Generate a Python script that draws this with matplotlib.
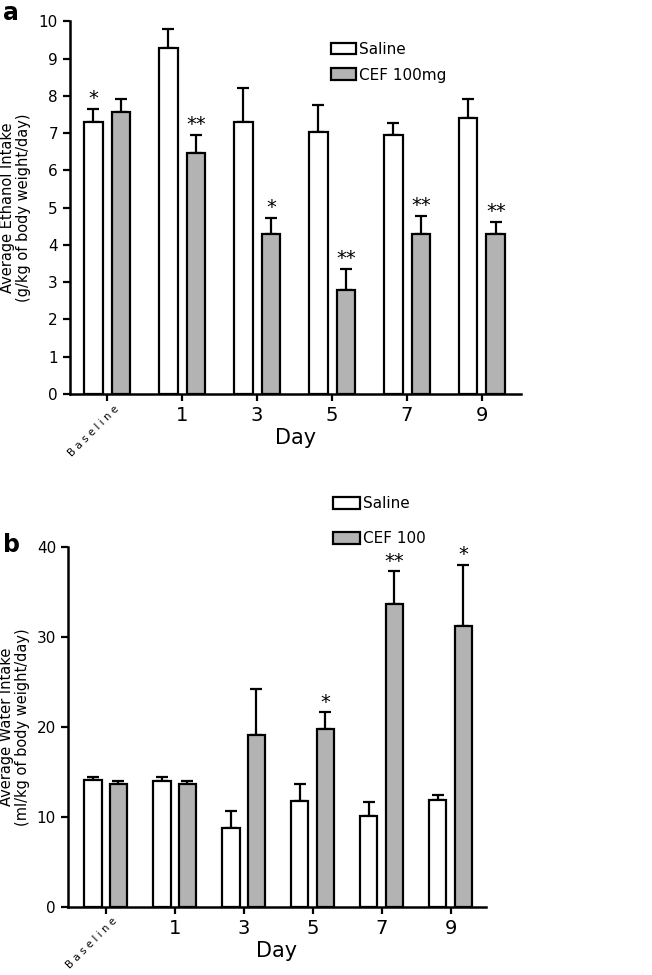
import numpy as np
import matplotlib.pyplot as plt
from matplotlib.patches import Patch

plt.rcParams['font.family'] = ['DejaVu Sans']

days = ["Baseline", "1", "3", "5", "7", "9"]

# panel a: ethanol intake
eth_saline = [7.3, 9.3, 7.3, 7.03, 6.95, 7.4]
eth_saline_sem = [0.35, 0.5, 0.92, 0.72, 0.33, 0.53]
eth_cef = [7.58, 6.48, 4.3, 2.78, 4.28, 4.3]
eth_cef_sem = [0.35, 0.47, 0.42, 0.57, 0.5, 0.32]
eth_saline_stars = ["*", "", "", "", "", ""]
eth_cef_stars = ["", "**", "*", "**", "**", "**"]

# panel b: water intake
wat_saline = [14.1, 14.0, 8.7, 11.8, 10.1, 11.9]
wat_saline_sem = [0.3, 0.4, 2.0, 1.8, 1.5, 0.5]
wat_cef = [13.6, 13.6, 19.1, 19.8, 33.7, 31.2]
wat_cef_sem = [0.4, 0.4, 5.1, 1.8, 3.6, 6.8]
wat_saline_stars = ["", "", "", "", "", ""]
wat_cef_stars = ["", "", "", "*", "**", "*"]

GRAY = "#b3b3b3"


def draw_panel(ax, saline, s_sem, cef, c_sem, s_stars, c_stars, ymax, yticks, ylabel, xlim, lab_x):
    x = np.arange(len(days))
    w = 0.25
    off = 0.185
    ax.bar(x - off, saline, w, color="white", edgecolor="black", linewidth=1.6, zorder=3)
    ax.bar(x + off, cef, w, color=GRAY, edgecolor="black", linewidth=1.6, zorder=3)
    n = len(days)
    ax.errorbar(x - off, saline, yerr=[np.zeros(n), s_sem], fmt="none", ecolor="black",
                elinewidth=1.6, capsize=4, capthick=1.6, zorder=2)
    ax.errorbar(x + off, cef, yerr=[np.zeros(n), c_sem], fmt="none", ecolor="black",
                elinewidth=1.6, capsize=4, capthick=1.6, zorder=2)
    pad = ymax * 0.002
    for i in range(n):
        if s_stars[i]:
            ax.text(x[i] - off, saline[i] + s_sem[i] + pad, s_stars[i], ha="center", va="bottom",
                    fontsize=14)
        if c_stars[i]:
            ax.text(x[i] + off, cef[i] + c_sem[i] + pad, c_stars[i], ha="center", va="bottom",
                    fontsize=14)
    ax.set_ylim(0, ymax)
    ax.set_xlim(*xlim)
    ax.set_yticks(yticks)
    ax.set_xticks(x)
    ax.set_xticklabels([""] + days[1:], fontsize=14)
    ax.text(x[0] + 0.14, -ymax * 0.035, "B a s e l i n e", rotation=45, rotation_mode="anchor",
            ha="right", va="center", fontsize=7.5, clip_on=False)
    ax.tick_params(axis="y", labelsize=11, width=1.6, length=5, direction="out")
    ax.tick_params(axis="x", width=1.6, length=5, direction="out", pad=4)
    for s in ["top", "right"]:
        ax.spines[s].set_visible(False)
    for s in ["left", "bottom"]:
        ax.spines[s].set_linewidth(1.8)
    ax.set_ylabel(ylabel, fontsize=10.5, linespacing=1.1)
    ax.yaxis.set_label_coords(lab_x, 0.5)
    ax.set_xlabel("Day", fontsize=15, labelpad=2)


fig = plt.figure(figsize=(6.52, 9.75), dpi=100)

ax1 = fig.add_axes([0.107, 0.596, 0.692, 0.382])
draw_panel(ax1, eth_saline, eth_saline_sem, eth_cef, eth_cef_sem, eth_saline_stars, eth_cef_stars,
           10, range(0, 11), "Average Ethanol Intake\n(g/kg of body weight/day)", (-0.5, 5.52), -0.085)
h1 = [Patch(facecolor="white", edgecolor="black", linewidth=1.6),
      Patch(facecolor=GRAY, edgecolor="black", linewidth=1.6)]
ax1.legend(h1, ["Saline", "CEF 100mg"], loc="upper left", bbox_to_anchor=(0.508, 0.957),
           bbox_transform=fig.transFigure, frameon=False, fontsize=11, handlelength=1.65,
           handleheight=0.8, handletextpad=0.2, labelspacing=0.7, borderaxespad=0, borderpad=0)

ax2 = fig.add_axes([0.104, 0.07, 0.641, 0.369])
draw_panel(ax2, wat_saline, wat_saline_sem, wat_cef, wat_cef_sem, wat_saline_stars, wat_cef_stars,
           40, [0, 10, 20, 30, 40], "Average Water Intake\n(ml/kg of body weight/day)", (-0.55, 5.51), -0.09)
ax2.legend(h1, ["Saline", "CEF 100"], loc="upper left", bbox_to_anchor=(0.511, 0.491),
           bbox_transform=fig.transFigure, frameon=False, fontsize=11, handlelength=1.75,
           handleheight=0.8, handletextpad=0.2, labelspacing=1.3, borderaxespad=0, borderpad=0)

fig.text(0.005, 0.999, "a", fontsize=17, fontweight="bold", va="top")
fig.text(0.005, 0.453, "b", fontsize=17, fontweight="bold", va="top")

fig.savefig("out.png", dpi=100)
